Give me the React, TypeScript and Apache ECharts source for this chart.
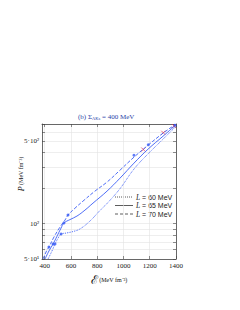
import React, { useEffect, useRef } from "react";
import * as echarts from "echarts";

// L = 60 MeV (dotted)
const E_L60 = [426, 456, 479, 502, 525, 563, 616, 669, 745, 821, 875, 974, 1080, 1187, 1301, 1400];
const P_L60 = [50, 58.5, 67, 75, 81.4, 83, 85.5, 90, 105, 129, 148, 198, 290, 390, 520, 670];
// L = 65 MeV (solid)
const E_L65 = [403, 433, 464, 494, 525, 547, 593, 646, 707, 768, 875, 974, 1080, 1187, 1301, 1400];
const P_L65 = [50, 58.5, 67, 78, 91.5, 101, 108, 115.7, 130, 149, 188.5, 243, 325.5, 428, 551, 690];
// L = 70 MeV (dashed)
const E_L70 = [388, 418, 433, 471, 517, 555, 578, 631, 692, 783, 875, 974, 1080, 1187, 1301, 1400];
const P_L70 = [50, 59.6, 63.2, 76.8, 93.4, 107, 118, 135, 155, 188.5, 225, 284, 366, 462, 585, 698];

// markers
const E_blue = [433, 578, 464, 547, 479, 525, 1080, 1189, 1392];
const P_blue = [63.2, 118, 67, 101, 67, 81.4, 380, 466, 684];
const E_red = [1151, 1303, 1385];
const P_red = [425, 590, 672];

const xTicks = [400, 600, 800, 1000, 1200, 1400];
const yTickValues = [50, 60, 70, 80, 90, 100, 200, 300, 400, 500, 600, 700];
const yLabelValues = [50, 100, 500];
const yLabelTexts = ["5·10¹", "10²", "5·10²"];
const legendLabels = ["L = 60 MeV", "L = 65 MeV", "L = 70 MeV"];

const X_MIN = 380;
const X_MAX = 1400;
const Y_MIN = 50;
const Y_MAX = 700;

const lg = (v: number) => Math.log10(v);
const toPairs = (xs: number[], ys: number[]) => xs.map((x, i) => [x, lg(ys[i])]);

const BLUE = "#3a5cf5";
const SERIF = "Liberation Serif";

export default function App() {
  const ref = useRef<HTMLDivElement>(null);
  useEffect(() => {
    if (!ref.current) return;
    const chart = echarts.init(ref.current, null, { renderer: "svg" });
    const axisLine = { show: true, lineStyle: { color: "#444", width: 0.8 } };
    const tickStyle = { color: "#444", width: 0.6 };
    const yLabelFmt = (v: number) => {
      const i = yLabelValues.findIndex((y) => Math.abs(lg(y) - v) < 1e-6);
      return i >= 0 ? yLabelTexts[i] : "";
    };
    const dashes: (number[] | null)[] = [[1, 1], null, [3, 2]];
    const legendGraphics: any[] = [];
    legendLabels.forEach((lab, i) => {
      const y = 197 + i * 8.5;
      legendGraphics.push({
        type: "line",
        shape: { x1: 115, y1: y, x2: 133, y2: y },
        style: { stroke: "#333", lineWidth: 0.8, lineDash: dashes[i] },
      });
      legendGraphics.push({
        type: "text",
        x: 136,
        y,
        style: {
          text: "{i|L}" + lab.slice(1),
          verticalAlign: "middle",
          fontSize: 7,
          fontFamily: "Liberation Sans",
          fill: "#222",
          rich: { i: { fontStyle: "italic", fontFamily: SERIF, fontSize: 7.5, fill: "#222" } },
        },
      });
    });
    chart.setOption({
      animation: false,
      backgroundColor: "#fff",
      title: {
        text: "(b) Σ{s|ΛKs} = 400 MeV",
        left: 73,
        top: 107,
        textStyle: {
          fontSize: 7,
          fontWeight: "normal",
          fontFamily: SERIF,
          color: "#2a3fa8",
          rich: { s: { fontSize: 4.5, fontFamily: SERIF, color: "#2a3fa8", padding: [4, 0, 0, 0] } },
        },
      },
      grid: { left: 42, right: 64, top: 124, bottom: 51, containLabel: false },
      xAxis: [
        {
          type: "value",
          min: X_MIN,
          max: X_MAX,
          position: "bottom",
          name: "{e|ℰ}{t| (MeV fm⁻³)}",
          nameLocation: "middle",
          nameGap: 15,
          nameTextStyle: {
            rich: {
              e: { fontSize: 12, fontFamily: SERIF, color: "#111" },
              t: { fontSize: 6, fontFamily: SERIF, color: "#111" },
            },
          },
          axisLine,
          axisTick: { show: true, inside: true, length: 3, lineStyle: tickStyle, customValues: xTicks },
          axisLabel: {
            customValues: xTicks,
            formatter: (v: number) => String(v),
            fontSize: 7,
            fontFamily: SERIF,
            color: "#222",
            margin: 3,
          },
          splitLine: { show: true, lineStyle: { color: "#e2e2e2", width: 0.6 } },
        },
        {
          type: "value",
          min: X_MIN,
          max: X_MAX,
          position: "top",
          axisLine,
          axisTick: { show: true, inside: true, length: 3, lineStyle: tickStyle, customValues: xTicks },
          axisLabel: { show: false },
          splitLine: { show: false },
        },
      ],
      yAxis: [
        {
          type: "value",
          min: lg(Y_MIN),
          max: lg(Y_MAX),
          position: "left",
          axisLine,
          axisTick: { show: true, inside: true, length: 3, lineStyle: tickStyle, customValues: yTickValues.map(lg) },
          axisLabel: {
            customValues: yLabelValues.map(lg),
            formatter: yLabelFmt,
            fontSize: 7,
            fontFamily: SERIF,
            color: "#222",
            margin: 3,
          },
          splitLine: { show: true, lineStyle: { color: "#e2e2e2", width: 0.6 } },
        },
        {
          type: "value",
          min: lg(Y_MIN),
          max: lg(Y_MAX),
          position: "right",
          axisLine,
          axisTick: { show: true, inside: true, length: 3, lineStyle: tickStyle, customValues: yTickValues.map(lg) },
          axisLabel: { show: false },
          splitLine: { show: false },
        },
      ],
      graphic: [
        {
          type: "text",
          x: 21,
          y: 174,
          rotation: Math.PI / 2,
          style: {
            text: "{p|P} (MeV fm⁻³)",
            align: "center",
            verticalAlign: "middle",
            fontSize: 6,
            fontFamily: SERIF,
            fill: "#111",
            rich: { p: { fontStyle: "italic", fontSize: 8, fontFamily: SERIF, fill: "#111" } },
          },
        },
        ...legendGraphics,
      ],
      series: [
        {
          name: legendLabels[0],
          type: "line",
          smooth: 0.4,
          symbol: "none",
          data: toPairs(E_L60, P_L60),
          lineStyle: { color: BLUE, width: 0.9, type: "dotted" },
          itemStyle: { color: BLUE },
        },
        {
          name: legendLabels[1],
          type: "line",
          smooth: 0.4,
          symbol: "none",
          data: toPairs(E_L65, P_L65),
          lineStyle: { color: BLUE, width: 0.9, type: "solid" },
          itemStyle: { color: BLUE },
        },
        {
          name: legendLabels[2],
          type: "line",
          smooth: 0.4,
          symbol: "none",
          data: toPairs(E_L70, P_L70),
          lineStyle: { color: BLUE, width: 0.9, type: "dashed" },
          itemStyle: { color: BLUE },
        },
        {
          name: "markers",
          type: "scatter",
          symbol: "circle",
          symbolSize: 3,
          data: toPairs(E_blue, P_blue),
          itemStyle: { color: BLUE },
        },
        {
          name: "markers2",
          type: "scatter",
          symbol: "path://M0,0L10,10M10,0L0,10",
          symbolSize: 4,
          data: toPairs(E_red, P_red),
          itemStyle: { color: "none", borderColor: "#e03050", borderWidth: 0.9 },
        },
      ],
    });
    return () => chart.dispose();
  }, []);
  return (
    <div
      ref={ref}
      style={{ position: "fixed", left: 0, top: 0, width: 240, height: 310, background: "#fff" }}
    />
  );
}
